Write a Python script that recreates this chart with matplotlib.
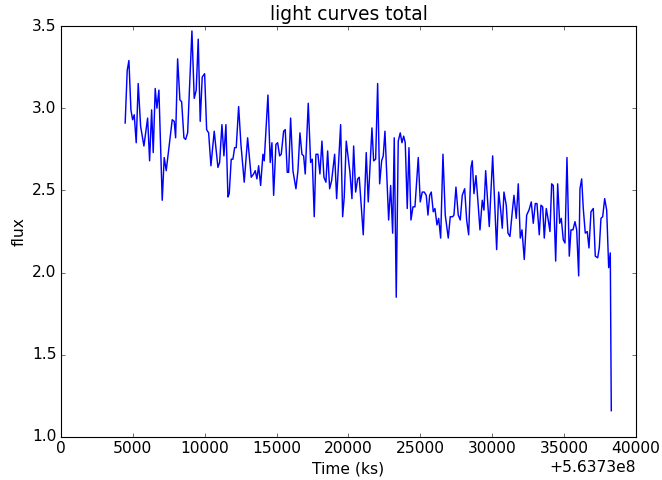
import matplotlib
matplotlib.use('Agg')
import matplotlib.pyplot as plt
import numpy as np

plt.style.use('classic')
plt.rcParams['font.size'] = 14

t0 = 5.6373e8
# seconds after t0
time_rel = np.array([
    4470, 4612, 4730, 4870, 4988, 5099, 5238, 5377, 5544, 5774,
    6031, 6170, 6310, 6421, 6560, 6678, 6817, 7047, 7186, 7325,
    7743, 7882, 7979, 8118, 8278, 8397, 8557, 8675, 8814, 9113,
    9273, 9412, 9551, 9690, 9830, 9997, 10136, 10275, 10435, 10664,
    10922, 11040, 11200, 11339, 11478, 11617, 11708, 11847, 11965, 12083,
    12195, 12362, 12522, 12751, 12988, 13238, 13405, 13516, 13635, 13753,
    13892, 14052, 14143, 14400, 14560, 14678, 14797, 14956, 15075, 15214,
    15325, 15492, 15603, 15743, 15840, 15979, 16139, 16348, 16487, 16626,
    16765, 16883, 16995, 17204, 17370, 17482, 17621, 17739, 17878, 18017,
    18157, 18296, 18435, 18553, 18692, 18831, 19040, 19179, 19457, 19596,
    19708, 19847, 20104, 20243, 20362, 20501, 20640, 20751, 21030, 21238,
    21377, 21635, 21753, 21892, 22031, 22170, 22309, 22421, 22539, 22796,
    22935, 23075, 23186, 23325, 23464, 23603, 23722, 23840, 23951, 24090,
    24209, 24348, 24487, 24626, 24856, 24995, 25134, 25273, 25412, 25530,
    25649, 25760, 25899, 26017, 26157, 26275, 26414, 26574, 26734, 26943,
    27081, 27249, 27339, 27478, 27638, 27777, 27916, 28083, 28222, 28361,
    28522, 28612, 28730, 28870, 29009, 29148, 29308, 29426, 29544, 29795,
    30031, 30309, 30449, 30588, 30699, 30817, 30977, 31096, 31235, 31395,
    31513, 31673, 31813, 31952, 32070, 32230, 32397, 32557, 32717, 32856,
    32995, 33113, 33273, 33391, 33509, 33621, 33760, 33878, 34017, 34135,
    34247, 34414, 34553, 34692, 34804, 34943, 35061, 35200, 35360, 35478,
    35617, 35757, 35875, 36014, 36104, 36222, 36334, 36473, 36612, 36730,
    36870, 37030, 37169, 37336, 37447, 37565, 37683, 37823, 37962, 38101,
    38212, 38282])
flux = np.array([
    2.91, 3.23, 3.29, 2.99, 2.93, 2.96, 2.79, 3.15, 2.89, 2.77,
    2.94, 2.68, 2.99, 2.73, 3.12, 3.00, 3.11, 2.44, 2.70, 2.62,
    2.93, 2.92, 2.82, 3.30, 3.05, 3.04, 2.82, 2.81, 2.85, 3.47,
    3.06, 3.11, 3.42, 2.92, 3.19, 3.21, 2.87, 2.85, 2.65, 2.86,
    2.64, 2.67, 2.90, 2.71, 2.90, 2.46, 2.48, 2.69, 2.69, 2.76,
    2.76, 3.01, 2.78, 2.55, 2.82, 2.58, 2.60, 2.62, 2.57, 2.65,
    2.53, 2.72, 2.68, 3.08, 2.67, 2.79, 2.47, 2.78, 2.79, 2.71,
    2.72, 2.86, 2.87, 2.61, 2.61, 2.94, 2.62, 2.51, 2.62, 2.85,
    2.72, 2.71, 2.60, 3.03, 2.67, 2.69, 2.34, 2.72, 2.72, 2.60,
    2.80, 2.58, 2.55, 2.74, 2.51, 2.56, 2.72, 2.45, 2.90, 2.34,
    2.46, 2.80, 2.61, 2.45, 2.77, 2.49, 2.57, 2.58, 2.23, 2.73,
    2.43, 2.88, 2.68, 2.69, 3.15, 2.54, 2.68, 2.71, 2.86, 2.32,
    2.53, 2.24, 2.82, 1.85, 2.80, 2.85, 2.79, 2.83, 2.79, 2.39,
    2.76, 2.32, 2.40, 2.40, 2.70, 2.43, 2.49, 2.49, 2.47, 2.35,
    2.47, 2.49, 2.37, 2.39, 2.29, 2.33, 2.21, 2.72, 2.35, 2.21,
    2.34, 2.34, 2.35, 2.52, 2.35, 2.32, 2.47, 2.51, 2.32, 2.23,
    2.64, 2.68, 2.48, 2.59, 2.43, 2.26, 2.44, 2.38, 2.62, 2.28,
    2.71, 2.14, 2.49, 2.38, 2.27, 2.49, 2.41, 2.24, 2.22, 2.37,
    2.47, 2.33, 2.54, 2.21, 2.26, 2.08, 2.35, 2.38, 2.43, 2.30,
    2.42, 2.42, 2.23, 2.41, 2.40, 2.21, 2.39, 2.33, 2.25, 2.54,
    2.53, 2.07, 2.54, 2.30, 2.33, 2.20, 2.18, 2.70, 2.10, 2.26,
    2.26, 2.31, 2.26, 1.98, 2.51, 2.57, 2.39, 2.24, 2.25, 2.15,
    2.37, 2.39, 2.10, 2.09, 2.15, 2.33, 2.34, 2.45, 2.38, 2.03,
    2.12, 1.16])

fig = plt.figure(figsize=(662 / 80, 6), dpi=80)
fig.subplots_adjust(left=0.092, right=0.9607, bottom=0.0896, top=0.9458)
ax = fig.add_subplot(111)
ax.plot(t0 + time_rel, flux, 'b-', lw=1.3)
ax.set_xlim(t0, t0 + 40000)
ax.set_ylim(1.0, 3.5)
ax.ticklabel_format(axis='x', useOffset=t0)
ax.set_title('light curves total')
ax.set_xlabel('Time (ks)')
ax.set_ylabel('flux')
fig.savefig('out.png', dpi=80, facecolor='white')
